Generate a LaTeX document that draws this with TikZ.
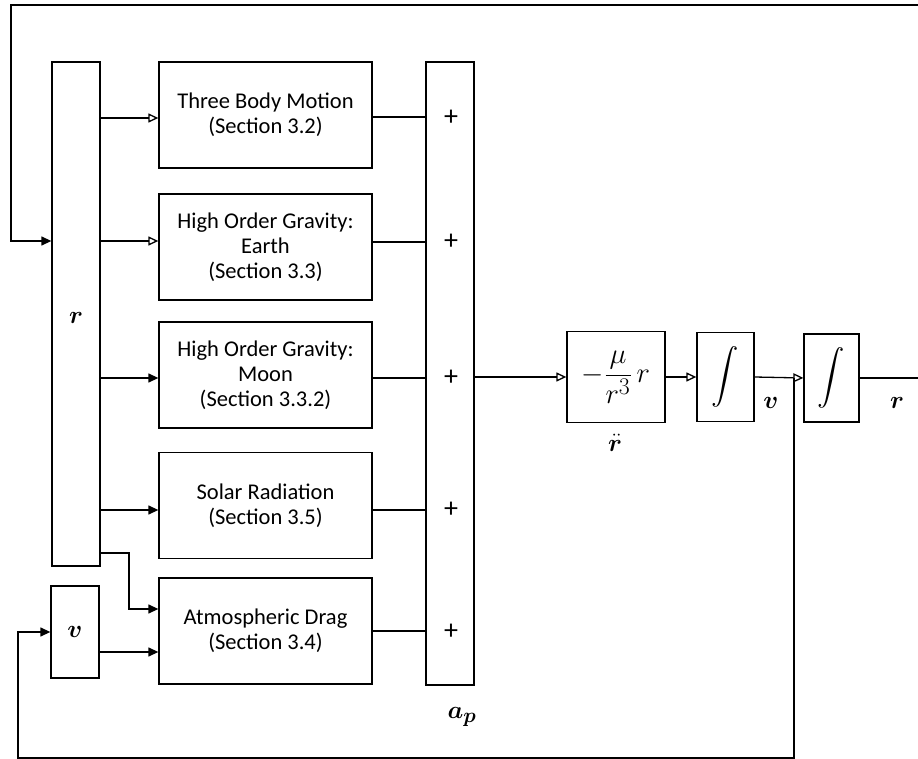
\documentclass[tikz,border=0pt]{standalone}
\usepackage{amsmath}
\usepackage{bm}
\usepackage{graphicx}
\usepackage{fontspec}
\setmainfont{Carlito}
\usetikzlibrary{arrows.meta}
\begin{document}
\begin{tikzpicture}[x=1pt,y=-1pt,
  every path/.style={line width=1.3pt},
  box/.style={draw,line width=1.3pt,inner sep=0pt,align=center,font=\fontsize{22.5}{25}\selectfont},
  fa/.style={-{Triangle[length=10pt,width=9pt]}},
  oa/.style={-{Triangle[open,length=10pt,width=9pt]}},
  lbl/.style={font=\fontsize{24.88}{30}\selectfont},
  plus/.style={font=\fontsize{28}{30}\selectfont}]
\useasboundingbox (0,0) rectangle (918,759);
% blocks
\node[box,minimum width=48pt,minimum height=504pt] (rbar) at (76,314) {};
\node[box,minimum width=48pt,minimum height=92pt] (vbox) at (75,632) {};
\node[box,minimum width=213pt,minimum height=106pt] (b1) at (265.5,115) {Three Body Motion\\(Section 3.2)};
\node[box,minimum width=213pt,minimum height=106pt] (b2) at (265.5,247) {High Order Gravity:\\Earth\\(Section 3.3)};
\node[box,minimum width=213pt,minimum height=106pt] (b3) at (265.5,375) {High Order Gravity:\\Moon\\(Section 3.3.2)};
\node[box,minimum width=213pt,minimum height=106pt] (b4) at (265.5,505.5) {Solar Radiation\\(Section 3.5)};
\node[box,minimum width=213pt,minimum height=106pt] (b5) at (265.5,631) {Atmospheric Drag\\(Section 3.4)};
\node[box,minimum width=48pt,minimum height=623pt] (sum) at (450,373.5) {};
\node[box,minimum width=98pt,minimum height=91pt,font=\fontsize{24.88}{30}\selectfont] (blk) at (616,377) {\scalebox{1.15}{$-\dfrac{\mu}{r^{3}}\,r$}};
\node[box,minimum width=57pt,minimum height=89pt,font=\fontsize{24.88}{30}\selectfont] (int1) at (725.5,377) {\scalebox{1.1}{$\displaystyle\int$}};
\node[box,minimum width=55pt,minimum height=88pt,font=\fontsize{24.88}{30}\selectfont] (int2) at (831.5,378) {\scalebox{1.1}{$\displaystyle\int$}};
% labels
\node[lbl] (lr) at (76,318) {$\bm{r}$};
\node[lbl] (lv) at (75,632) {$\bm{v}$};
\node[lbl] (lap) at (462,717) {$\bm{a_p}$};
\node[lbl] (lrdd) at (615,443) {$\ddot{\bm{r}}$};
\node[lbl] (lv2) at (771,403) {$\bm{v}$};
\node[lbl] (lr2) at (897,403) {$\bm{r}$};
\foreach \y/\n in {118/p1,242/p2,378/p3,510/p4,632/p5}
  \node[plus] (\n) at (451,\y) {+};
% coordinates
\coordinate (topL) at (11,5);
\coordinate (topR) at (918,5);
\coordinate (rout) at (918,378);
\coordinate (fb) at (794,378);
\coordinate (fbB) at (794,758);
\coordinate (fbL) at (18,758);
\coordinate (dragK) at (129,553);
% top feedback into r bar
\draw[fa] (topR) -- (topL) |- ([yshift=73pt]rbar.west);
% r bar to boxes
\draw[oa] ([yshift=-3pt]b1.west -| rbar.east) -- ([yshift=-3pt]b1.west);
\draw[oa] ([yshift=6pt]b2.west -| rbar.east) -- ([yshift=6pt]b2.west);
\draw[fa] ([yshift=-3pt]b3.west -| rbar.east) -- ([yshift=-3pt]b3.west);
\draw[fa] ([yshift=-4.5pt]b4.west -| rbar.east) -- ([yshift=-4.5pt]b4.west);
\draw[fa] (dragK -| rbar.east) -- (dragK) |- ([yshift=22pt]b5.west);
\draw[fa] ([yshift=-20pt]vbox.east) -- ([yshift=-21pt]b5.west);
% boxes to sum
\draw ([yshift=-2pt]b1.east) -- ([yshift=-2pt]b1.east -| sum.west);
\draw ([yshift=5pt]b2.east) -- ([yshift=5pt]b2.east -| sum.west);
\draw ([yshift=-3pt]b3.east) -- ([yshift=-3pt]b3.east -| sum.west);
\draw ([yshift=-4.5pt]b4.east) -- ([yshift=-4.5pt]b4.east -| sum.west);
\draw (b5.east) -- (b5.east -| sum.west);
% main chain
\draw[oa] (blk.west -| sum.east) -- (blk.west);
\draw[oa] (blk.east) -- (int1.west);
\draw[oa] (int1.east) -- (int2.west);
\draw (int2.east) -- (rout);
% v feedback
\draw[fa] (fb) -- (fbB) -- (fbL) |- (vbox.west);
\end{tikzpicture}
\end{document}
